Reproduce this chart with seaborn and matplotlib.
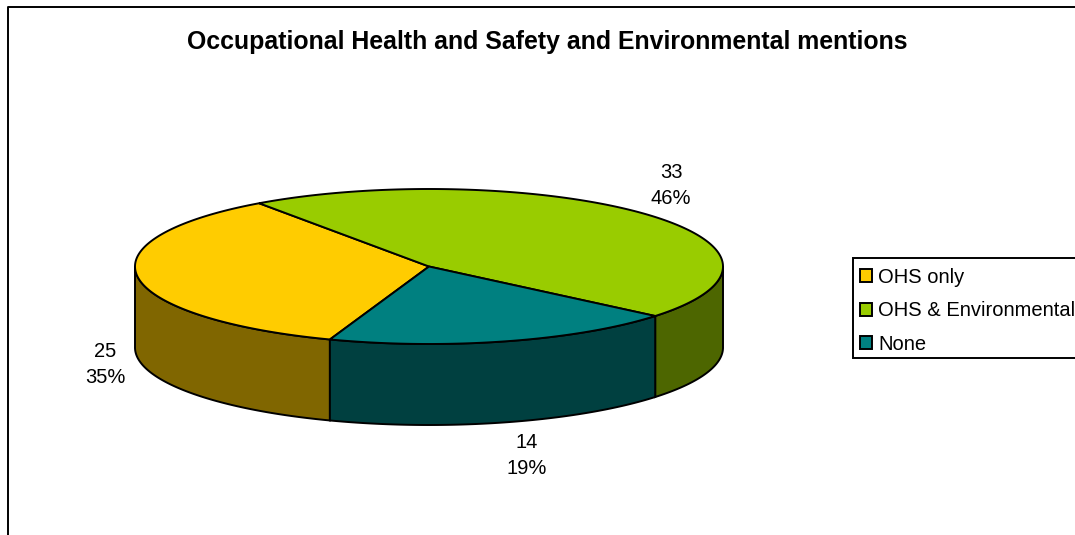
import numpy as np
import matplotlib
matplotlib.use('Agg')
import matplotlib.pyplot as plt
from matplotlib.patches import Patch
import seaborn as sns

# data
labels = ['OHS only', 'OHS & Environmental', 'None']
values = [25, 33, 14]
top_colors = ['#FFCC00', '#99CC00', '#008080']
side_colors = ['#806600', '#4D6600', '#004040']

title = 'Occupational Health and Safety and Environmental mentions'

sns.set_theme(style='white')
plt.rcParams['font.family'] = ['Liberation Sans', 'DejaVu Sans']

# pie geometry in pixels
cx, cy = 429, 266.5
rx, ry = 294, 77.5
depth = 81
start_angle = -109.7
label_pos = [(105, 364.5), (671, 185.5), (527, 455.5)]

fig, ax = plt.subplots(figsize=(10.75, 5.35), dpi=100)
ax.set_position([0, 0, 1, 1])
ax.set_xlim(0, 1075)
ax.set_ylim(535, 0)
ax.axis('off')


def arc(a1, a2):
    t = np.radians(np.linspace(a1, a2, 200))
    return cx + rx * np.cos(t), cy - ry * np.sin(t)


# outer chart frame, runs off the image on the right and bottom
ax.plot([8, 8, 1090], [550, 6.5, 6.5], color='black', lw=1.4, clip_on=False)

sweeps = 360 * np.array(values) / sum(values)
ends = start_angle - np.cumsum(sweeps)
starts = ends + sweeps

# side walls, only the part of each slice at the front of the disc
for a1, a2, col in zip(starts, ends, side_colors):
    for shift in (0, 360, -360):
        hi = min(a1 + shift, 0)
        lo = max(a2 + shift, -180)
        if hi > lo:
            x, y = arc(hi, lo)
            ax.fill(np.r_[x, x[::-1]], np.r_[y, y[::-1] + depth],
                    facecolor=col, edgecolor='black', lw=1.4, zorder=2)

# top of the disc
for a1, a2, col in zip(starts, ends, top_colors):
    x, y = arc(a1, a2)
    ax.fill(np.r_[cx, x], np.r_[cy, y], facecolor=col, edgecolor='black',
            lw=1.4, zorder=3)

# value + percent labels
for v, (lx, ly) in zip(values, label_pos):
    ax.text(lx, ly, f'{v}\n{v / sum(values):.0%}', ha='center', va='center',
            fontsize=14.5, linespacing=1.5, color='black')

ax.text(547, 41.5, title, ha='center', va='center', fontsize=17.9,
        fontweight='bold', color='black')

handles = [Patch(facecolor=c, edgecolor='black', lw=1.4) for c in top_colors]
leg = ax.legend(handles, labels, loc='upper left',
                bbox_to_anchor=(852.5, 257.5), bbox_transform=ax.transData,
                borderaxespad=0, fontsize=14.5, fancybox=False, framealpha=1,
                edgecolor='black', handlelength=0.6, handleheight=0.6,
                handletextpad=0.3, labelspacing=0.72, borderpad=0.36,
                labelcolor='black')
leg.get_frame().set_linewidth(1.4)

# entries sit a little low inside the box in the original
for t in leg.get_texts():
    t.set_y(-3)
for p in leg.get_patches():
    p.set_y(p.get_y() - 2.2)

fig.savefig('out.png', dpi=100)
